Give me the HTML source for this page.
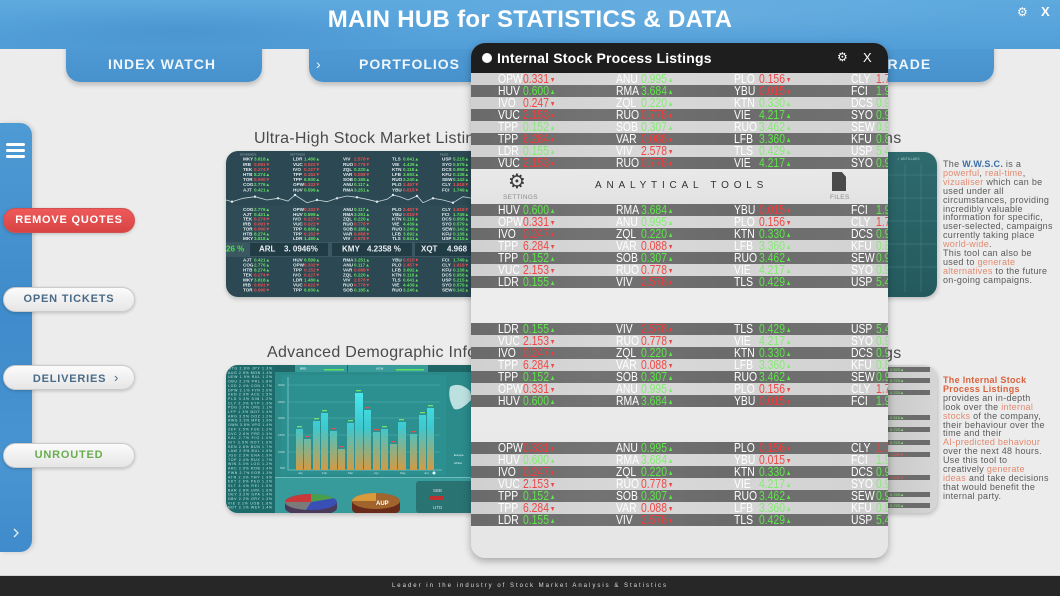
<!DOCTYPE html>
<html><head><meta charset="utf-8">
<style>
*{margin:0;padding:0;box-sizing:border-box}
html,body{width:1060px;height:596px;overflow:hidden}
body{position:relative;background:#ececec;font-family:"Liberation Sans",sans-serif}
.a{position:absolute}
#band{left:0;top:0;width:1060px;height:49px;z-index:2;background:radial-gradient(ellipse 260px 30px at 180px 30px,rgba(40,110,180,.25),transparent),radial-gradient(ellipse 300px 30px at 700px 15px,rgba(255,255,255,.08),transparent),linear-gradient(180deg,#5eaadf,#529ed8)}
.tab{top:40px;height:42px;z-index:1;border-radius:0 0 14px 14px;background:linear-gradient(180deg,#509cd6 0%,#4791cc 100%);box-shadow:0 3px 5px rgba(0,0,0,.2)}
.tt{color:#eef6fc;font-weight:bold;font-size:14px;letter-spacing:1px;line-height:20px;z-index:3;white-space:nowrap}
#side{left:0;top:123px;width:32px;height:429px;border-radius:0 12px 12px 0;background:linear-gradient(180deg,#4e9ad4,#3f8bcb 45%,#4995d2 80%,#3f8bcb);box-shadow:2px 0 4px rgba(0,0,0,.15)}
.btn{left:3px;width:132px;height:25px;border-radius:13px;background:linear-gradient(180deg,#fbfbfb,#e6e6e6);border:1px solid #cbcbcb;box-shadow:0 1px 3px rgba(0,0,0,.2);font-weight:bold;font-size:11px;letter-spacing:.8px;text-align:center;line-height:23px;white-space:nowrap}
.sec{font-size:16px;color:#4a4a4a;letter-spacing:.3px;line-height:18px;white-space:nowrap}
#modal{left:471px;top:43px;width:417px;height:515px;border-radius:14px;overflow:hidden;background:linear-gradient(180deg,#e3e3e3,#ededed 50%,#e6e6e6);box-shadow:0 3px 8px rgba(0,0,0,.3);z-index:10}
.row{position:absolute;left:0;width:417px;height:12px}
.row.d{background:linear-gradient(90deg,#6a6a6a,#737373 30%,#6b6b6b 60%,#717171)}
.row.l{background:linear-gradient(90deg,#d0d0d0,#d8d8d8 40%,#d2d2d2)}
.row b,.row i{position:absolute;top:0;font-weight:normal;font-style:normal;font-size:12.5px;line-height:12px;color:#fff;transform:scaleX(.83);transform-origin:0 0;white-space:nowrap}
.row b:nth-of-type(1){left:27px}.row b:nth-of-type(2){left:145px}.row b:nth-of-type(3){left:263px}.row b:nth-of-type(4){left:380px}
.row i:nth-of-type(1){left:51.5px}.row i:nth-of-type(2){left:169.5px}.row i:nth-of-type(3){left:288px}.row i:nth-of-type(4){left:405px}
.row i.g{color:#5ee64a}.row i.n{color:#f23c3c}
.row.l i.g{color:#86ea76}.row.l i.n{color:#f04848}
.row i.g::after{content:"▲";font-size:7px;margin-left:1px;position:relative;top:-1px}
.row i.n::after{content:"▼";font-size:7px;margin-left:1px;position:relative;top:-1px}
.t{font-family:"Liberation Sans",sans-serif;font-size:4.6px;font-weight:bold;fill:#e3ecef}
.t .g{fill:#63e063}.t .n{fill:#ef5050}
.lb{font-family:"Liberation Sans",sans-serif;font-size:3px;fill:#9fb4bb}
.tk{font-family:"Liberation Sans",sans-serif;font-size:8px;font-weight:bold;fill:#e9f0f2}
.ls{font-family:"Liberation Sans",sans-serif;font-size:3.5px;fill:#c2e6e6}
.sm{font-family:"Liberation Sans",sans-serif;font-size:3px;fill:#bfe0e0}
.side-txt{font-size:9px;line-height:8.9px;color:#5a5a5a;letter-spacing:.3px;white-space:nowrap}
.side-txt .h{color:#e38a70}
</style></head><body>

<!-- header -->
<div class="a" id="band"></div>
<div class="a tab" style="left:66px;width:196px"></div>
<div class="a tab" style="left:309px;width:175px"></div>
<div class="a tab" style="left:815px;width:179px"></div>
<div class="a" style="left:0;top:6px;width:1060px;text-align:center;color:#fff;font-weight:bold;font-size:24px;letter-spacing:.3px;line-height:27px;z-index:3">MAIN HUB for STATISTICS &amp; DATA</div>
<div class="a tt" style="left:108px;top:54px">INDEX WATCH</div>
<div class="a tt" style="left:316px;top:54px;font-weight:normal">›</div>
<div class="a tt" style="left:359px;top:54px">PORTFOLIOS</div>
<div class="a tt" style="left:878px;top:54px">TRADE</div>
<div class="a" style="left:1017px;top:5px;color:#fff;font-family:'DejaVu Sans',sans-serif;font-size:12px;z-index:3">⚙</div>
<div class="a" style="left:1041px;top:4px;color:#fff;font-weight:bold;font-size:13px;z-index:3">X</div>

<!-- sidebar -->
<div class="a" id="side"></div>
<div class="a" style="left:6px;top:143px;width:19px;height:3px;background:#fff;border-radius:2px"></div>
<div class="a" style="left:6px;top:149px;width:19px;height:3px;background:#fff;border-radius:2px"></div>
<div class="a" style="left:6px;top:155px;width:19px;height:3px;background:#fff;border-radius:2px"></div>
<svg class="a" style="left:10px;top:527px" width="12" height="12"><polyline points="4,2 8,6 4,10" fill="none" stroke="#e6f1fa" stroke-width="1.3"/></svg>

<div class="a btn" style="top:208px;background:linear-gradient(180deg,#ee5a5a,#d84444);border:1px solid #d45050;color:#fff">REMOVE QUOTES</div>
<div class="a btn" style="top:287px;color:#4a6b88">OPEN TICKETS</div>
<div class="a btn" style="top:365px;color:#4a6b88;padding-left:14px">DELIVERIES&nbsp;&nbsp;<span style="font-weight:normal;font-size:13px">›</span></div>
<div class="a btn" style="top:443px;color:#6aad4f">UNROUTED</div>

<!-- section titles -->
<div class="a sec" style="left:254px;top:130px">Ultra-High Stock Market Listings</div>
<div class="a sec" style="left:884px;top:130px">ns</div>
<div class="a sec" style="left:267px;top:344px">Advanced Demographic Information</div>
<div class="a sec" style="left:884px;top:345px">gs</div>

<!-- image 1 -->
<div class="a" style="left:226px;top:151px;width:262px;height:146px;border-radius:12px;overflow:hidden;box-shadow:0 2px 4px rgba(0,0,0,.2)">
<svg width="262" height="146">
<rect width="262" height="146" fill="#2c4852"/>
<rect y="54" width="262" height="37" fill="#2f4c56"/>
<text class="lb" x="14" y="4.5">DIVIDENDS</text><text class="lb" x="64" y="4.5">SETTINGS</text><text class="lb" x="214" y="4.5">FILES</text>
<g class="t">
<text y="9.7"><tspan x="17">MKY</tspan><tspan x="28" class="g">3.818▲</tspan><tspan x="67">LDR</tspan><tspan x="78" class="g">1.480▲</tspan><tspan x="117">VIV</tspan><tspan x="128" class="n">2.578▼</tspan><tspan x="166">TLS</tspan><tspan x="177" class="g">0.641▲</tspan><tspan x="216">USP</tspan><tspan x="227" class="g">5.215▲</tspan></text>
<text y="14.8"><tspan x="17">IRB</tspan><tspan x="28" class="n">0.091▼</tspan><tspan x="67">VUC</tspan><tspan x="78" class="n">0.022▼</tspan><tspan x="117">RUO</tspan><tspan x="128" class="n">0.778▼</tspan><tspan x="166">VIE</tspan><tspan x="177" class="g">4.439▲</tspan><tspan x="216">SYO</tspan><tspan x="227" class="g">0.579▲</tspan></text>
<text y="19.9"><tspan x="17">TEK</tspan><tspan x="28" class="n">0.274▼</tspan><tspan x="67">IVO</tspan><tspan x="78" class="n">0.227▼</tspan><tspan x="117">ZQL</tspan><tspan x="128" class="g">0.220▲</tspan><tspan x="166">KTN</tspan><tspan x="177" class="g">0.118▲</tspan><tspan x="216">DCS</tspan><tspan x="227" class="g">0.958▲</tspan></text>
<text y="25"><tspan x="17">HTB</tspan><tspan x="28" class="g">8.274▲</tspan><tspan x="67">TPP</tspan><tspan x="78" class="n">0.152▼</tspan><tspan x="117">VAR</tspan><tspan x="128" class="n">0.088▼</tspan><tspan x="166">LFB</tspan><tspan x="177" class="g">3.692▲</tspan><tspan x="216">KFU</tspan><tspan x="227" class="g">0.138▲</tspan></text>
<text y="30.1"><tspan x="17">TOR</tspan><tspan x="28" class="n">0.090▼</tspan><tspan x="67">TPP</tspan><tspan x="78" class="g">6.930▲</tspan><tspan x="117">SOB</tspan><tspan x="128" class="g">0.185▲</tspan><tspan x="166">RUO</tspan><tspan x="177" class="g">3.240▲</tspan><tspan x="216">SEW</tspan><tspan x="227" class="g">0.142▲</tspan></text>
<text y="35.2"><tspan x="17">COG</tspan><tspan x="28" class="g">2.776▲</tspan><tspan x="67">OPW</tspan><tspan x="78" class="n">0.332▼</tspan><tspan x="117">ANU</tspan><tspan x="128" class="g">0.117▲</tspan><tspan x="166">PLO</tspan><tspan x="177" class="n">2.457▼</tspan><tspan x="216">CLY</tspan><tspan x="227" class="n">1.618▼</tspan></text>
<text y="40.3"><tspan x="17">AJT</tspan><tspan x="28" class="g">0.421▲</tspan><tspan x="67">HUV</tspan><tspan x="78" class="g">0.599▲</tspan><tspan x="117">RMA</tspan><tspan x="128" class="g">3.251▲</tspan><tspan x="166">YBU</tspan><tspan x="177" class="n">0.015▼</tspan><tspan x="216">FCI</tspan><tspan x="227" class="g">1.749▲</tspan></text>

<text y="60"><tspan x="17">COG</tspan><tspan x="28" class="g">2.776▲</tspan><tspan x="67">OPW</tspan><tspan x="78" class="n">0.332▼</tspan><tspan x="117">ANU</tspan><tspan x="128" class="g">0.117▲</tspan><tspan x="166">PLO</tspan><tspan x="177" class="n">2.457▼</tspan><tspan x="216">CLY</tspan><tspan x="227" class="n">1.618▼</tspan></text>
<text y="64.85"><tspan x="17">AJT</tspan><tspan x="28" class="g">0.421▲</tspan><tspan x="67">HUV</tspan><tspan x="78" class="g">0.599▲</tspan><tspan x="117">RMA</tspan><tspan x="128" class="g">3.251▲</tspan><tspan x="166">YBU</tspan><tspan x="177" class="n">0.015▼</tspan><tspan x="216">FCI</tspan><tspan x="227" class="g">1.749▲</tspan></text>
<text y="69.7"><tspan x="17">TEK</tspan><tspan x="28" class="n">0.274▼</tspan><tspan x="67">IVO</tspan><tspan x="78" class="n">0.227▼</tspan><tspan x="117">ZQL</tspan><tspan x="128" class="g">0.220▲</tspan><tspan x="166">KTN</tspan><tspan x="177" class="g">0.118▲</tspan><tspan x="216">DCS</tspan><tspan x="227" class="g">0.958▲</tspan></text>
<text y="74.55"><tspan x="17">IRB</tspan><tspan x="28" class="n">0.091▼</tspan><tspan x="67">VUC</tspan><tspan x="78" class="n">0.022▼</tspan><tspan x="117">RUO</tspan><tspan x="128" class="n">0.778▼</tspan><tspan x="166">VIE</tspan><tspan x="177" class="g">4.439▲</tspan><tspan x="216">SYO</tspan><tspan x="227" class="g">0.579▲</tspan></text>
<text y="79.4"><tspan x="17">TOR</tspan><tspan x="28" class="n">0.090▼</tspan><tspan x="67">TPP</tspan><tspan x="78" class="g">6.930▲</tspan><tspan x="117">SOB</tspan><tspan x="128" class="g">0.185▲</tspan><tspan x="166">RUO</tspan><tspan x="177" class="g">3.240▲</tspan><tspan x="216">SEW</tspan><tspan x="227" class="g">0.142▲</tspan></text>
<text y="84.25"><tspan x="17">HTB</tspan><tspan x="28" class="g">8.274▲</tspan><tspan x="67">TPP</tspan><tspan x="78" class="n">0.152▼</tspan><tspan x="117">VAR</tspan><tspan x="128" class="n">0.088▼</tspan><tspan x="166">LFB</tspan><tspan x="177" class="g">3.692▲</tspan><tspan x="216">KFU</tspan><tspan x="227" class="g">0.138▲</tspan></text>
<text y="89.1"><tspan x="17">MKY</tspan><tspan x="28" class="g">3.818▲</tspan><tspan x="67">LDR</tspan><tspan x="78" class="g">1.480▲</tspan><tspan x="117">VIV</tspan><tspan x="128" class="n">2.578▼</tspan><tspan x="166">TLS</tspan><tspan x="177" class="g">0.641▲</tspan><tspan x="216">USP</tspan><tspan x="227" class="g">5.215▲</tspan></text>

<text y="110.5"><tspan x="17">AJT</tspan><tspan x="28" class="g">0.421▲</tspan><tspan x="67">HUV</tspan><tspan x="78" class="g">0.599▲</tspan><tspan x="117">RMA</tspan><tspan x="128" class="g">3.251▲</tspan><tspan x="166">YBU</tspan><tspan x="177" class="n">0.015▼</tspan><tspan x="216">FCI</tspan><tspan x="227" class="g">1.749▲</tspan></text>
<text y="115.5"><tspan x="17">COG</tspan><tspan x="28" class="g">2.776▲</tspan><tspan x="67">OPW</tspan><tspan x="78" class="n">0.332▼</tspan><tspan x="117">ANU</tspan><tspan x="128" class="g">0.117▲</tspan><tspan x="166">PLO</tspan><tspan x="177" class="n">2.457▼</tspan><tspan x="216">CLY</tspan><tspan x="227" class="n">1.618▼</tspan></text>
<text y="120.5"><tspan x="17">HTB</tspan><tspan x="28" class="g">8.274▲</tspan><tspan x="67">TPP</tspan><tspan x="78" class="n">0.152▼</tspan><tspan x="117">VAR</tspan><tspan x="128" class="n">0.088▼</tspan><tspan x="166">LFB</tspan><tspan x="177" class="g">3.692▲</tspan><tspan x="216">KFU</tspan><tspan x="227" class="g">0.138▲</tspan></text>
<text y="125.5"><tspan x="17">TEK</tspan><tspan x="28" class="n">0.274▼</tspan><tspan x="67">IVO</tspan><tspan x="78" class="n">0.227▼</tspan><tspan x="117">ZQL</tspan><tspan x="128" class="g">0.220▲</tspan><tspan x="166">KTN</tspan><tspan x="177" class="g">0.118▲</tspan><tspan x="216">DCS</tspan><tspan x="227" class="g">0.958▲</tspan></text>
<text y="130.5"><tspan x="17">MKY</tspan><tspan x="28" class="g">3.818▲</tspan><tspan x="67">LDR</tspan><tspan x="78" class="g">1.480▲</tspan><tspan x="117">VIV</tspan><tspan x="128" class="n">2.578▼</tspan><tspan x="166">TLS</tspan><tspan x="177" class="g">0.641▲</tspan><tspan x="216">USP</tspan><tspan x="227" class="g">5.215▲</tspan></text>
<text y="135.5"><tspan x="17">IRB</tspan><tspan x="28" class="n">0.091▼</tspan><tspan x="67">VUC</tspan><tspan x="78" class="n">0.022▼</tspan><tspan x="117">RUO</tspan><tspan x="128" class="n">0.778▼</tspan><tspan x="166">VIE</tspan><tspan x="177" class="g">4.439▲</tspan><tspan x="216">SYO</tspan><tspan x="227" class="g">0.579▲</tspan></text>
<text y="140.5"><tspan x="17">TOR</tspan><tspan x="28" class="n">0.090▼</tspan><tspan x="67">TPP</tspan><tspan x="78" class="g">6.930▲</tspan><tspan x="117">SOB</tspan><tspan x="128" class="g">0.185▲</tspan><tspan x="166">RUO</tspan><tspan x="177" class="g">3.240▲</tspan><tspan x="216">SEW</tspan><tspan x="227" class="g">0.142▲</tspan></text>
</g>
<polyline points="0,49 6,50.7 17,47.3 29,45.7 41,49 52,47.3 62,50 69,44 81,51.7 91,49 101,50.7 111,47.3 121,45 131,46.3 141,48.3 151,50.7 161,48.3 167,44 174,45.7 182,49 191,45 197,51.7 207,47.3 217,49 227,51.7 237,45.7 250,48 262,47" fill="none" stroke="#c9d8dd" stroke-width=".8"/>
<g fill="#dfe9ec"><circle cx="6" cy="50.7" r="1.2"/><circle cx="29" cy="45.7" r="1.2"/><circle cx="52" cy="47.3" r="1.2"/><circle cx="69" cy="44" r="1.2"/><circle cx="91" cy="49" r="1.2"/><circle cx="111" cy="47.3" r="1.2"/><circle cx="131" cy="46.3" r="1.2"/><circle cx="151" cy="50.7" r="1.2"/><circle cx="167" cy="44" r="1.2"/><circle cx="191" cy="45" r="1.2"/><circle cx="207" cy="47.3" r="1.2"/><circle cx="227" cy="51.7" r="1.2"/><circle cx="250" cy="48" r="1.2"/></g>
<rect x="0" y="91" width="262" height="15" fill="#3b5761"/>
<rect x="24" y="92" width="78" height="13" fill="#223c46"/>
<rect x="106" y="92" width="80" height="13" fill="#223c46"/>
<rect x="189" y="92" width="73" height="13" fill="#223c46"/>
<text class="tk" x="0" y="100.7" style="fill:#4be04b">26 %</text>
<text class="tk" x="33" y="100.7">ARL</text><text class="tk" x="58" y="100.7">3. 0946%</text>
<text class="tk" x="116" y="100.7">KMY</text><text class="tk" x="141" y="100.7">4.2358 %</text>
<text class="tk" x="195" y="100.7">XQT</text><text class="tk" x="221" y="100.7">4.968</text>
</svg>
</div>

<!-- image 2 -->
<div class="a" style="left:226px;top:365px;width:262px;height:148px;border-radius:12px;overflow:hidden;box-shadow:0 2px 4px rgba(0,0,0,.2)">
<svg width="262" height="148">
<defs><linearGradient id="bg2" x1="0" y1="28" x2="0" y2="105" gradientUnits="userSpaceOnUse"><stop offset="0" stop-color="#48e6ec"/><stop offset=".45" stop-color="#3dc8cf"/><stop offset="1" stop-color="#d49a43"/></linearGradient></defs>
<rect width="262" height="148" fill="#2b8a8a"/>
<rect width="49" height="148" fill="#1c6a6a"/>
<g class="ls">
<text x="2" y="4.5" textLength="44" lengthAdjust="spacing">MTG 2.8% JPY 1.3%</text>
<text x="2" y="8.85" textLength="44" lengthAdjust="spacing">AUG 2.5% MON 1.4%</text>
<text x="2" y="13.2" textLength="44" lengthAdjust="spacing">UEW 1.9% RUL 1.2%</text>
<text x="2" y="17.55" textLength="44" lengthAdjust="spacing">OBU 2.2% PRL 1.8%</text>
<text x="2" y="21.9" textLength="44" lengthAdjust="spacing">LOD 2.4% CON 1.7%</text>
<text x="2" y="26.25" textLength="44" lengthAdjust="spacing">DPW 2.1% FYR 2.0%</text>
<text x="2" y="30.6" textLength="44" lengthAdjust="spacing">KEN 2.9% ACE 1.5%</text>
<text x="2" y="34.95" textLength="44" lengthAdjust="spacing">PLD 3.3% SIM 1.2%</text>
<text x="2" y="39.3" textLength="44" lengthAdjust="spacing">CLY 2.3% EYP 1.3%</text>
<text x="2" y="43.65" textLength="44" lengthAdjust="spacing">PDG 2.0% URE 1.1%</text>
<text x="2" y="48" textLength="44" lengthAdjust="spacing">LFP 1.3% MOT 1.4%</text>
<text x="2" y="52.35" textLength="44" lengthAdjust="spacing">ARG 3.5% DOZ 1.2%</text>
<text x="2" y="56.7" textLength="44" lengthAdjust="spacing">RWS 2.3% MPE 1.9%</text>
<text x="2" y="61.05" textLength="44" lengthAdjust="spacing">OWN 3.8% VPG 1.4%</text>
<text x="2" y="65.4" textLength="44" lengthAdjust="spacing">ZEF 2.5% FUE 1.2%</text>
<text x="2" y="69.75" textLength="44" lengthAdjust="spacing">DVC 2.6% PRE 1.3%</text>
<text x="2" y="74.1" textLength="44" lengthAdjust="spacing">KAL 2.7% FIG 1.0%</text>
<text x="2" y="78.45" textLength="44" lengthAdjust="spacing">HIY 3.5% NOT 1.6%</text>
<text x="2" y="82.8" textLength="44" lengthAdjust="spacing">SEN 2.6% BUN 1.7%</text>
<text x="2" y="87.15" textLength="44" lengthAdjust="spacing">LAW 2.8% BUL 1.5%</text>
<text x="2" y="91.5" textLength="44" lengthAdjust="spacing">JGU 2.3% ENA 1.9%</text>
<text x="2" y="95.85" textLength="44" lengthAdjust="spacing">TOP 2.4% RUX 1.7%</text>
<text x="2" y="100.2" textLength="44" lengthAdjust="spacing">WIN 3.3% LOG 1.2%</text>
<text x="2" y="104.55" textLength="44" lengthAdjust="spacing">ARC 2.5% ROB 1.4%</text>
<text x="2" y="108.9" textLength="44" lengthAdjust="spacing">PWN 2.7% EOR 1.3%</text>
<text x="2" y="113.25" textLength="44" lengthAdjust="spacing">ATR 2.3% TMY 1.9%</text>
<text x="2" y="117.6" textLength="44" lengthAdjust="spacing">EKT 2.6% PEO 1.2%</text>
<text x="2" y="121.95" textLength="44" lengthAdjust="spacing">SLT 3.4% REI 1.5%</text>
<text x="2" y="126.3" textLength="44" lengthAdjust="spacing">BAR 2.8% URK 1.6%</text>
<text x="2" y="130.65" textLength="44" lengthAdjust="spacing">OEY 3.2% GPA 1.4%</text>
<text x="2" y="135" textLength="44" lengthAdjust="spacing">DBV 2.2% ORY 1.3%</text>
<text x="2" y="139.35" textLength="44" lengthAdjust="spacing">VIE 3.1% UOB 1.6%</text>
<text x="2" y="143.7" textLength="44" lengthAdjust="spacing">NOT 2.1% WEF 1.4%</text>
</g>
<rect x="49" y="0" width="213" height="7" fill="#1f6767"/>
<rect x="69" y="0" width="52" height="7" fill="#3a9b9b"/><rect x="98" y="4" width="20" height="1.5" fill="#5fe05f"/>
<rect x="122" y="0" width="80" height="7" fill="#3a9b9b"/><rect x="170" y="4" width="28" height="1.5" fill="#5fe05f"/>
<text class="sm" x="74" y="4.5" style="fill:#fff">BRD</text><text class="sm" x="150" y="4.5" style="fill:#fff">UCW</text>
<rect x="55" y="10" width="165" height="100" fill="#2d9090"/>
<g stroke="#5fb6b6" stroke-width=".4"><line x1="62" y1="20" x2="214" y2="20"/><line x1="62" y1="37" x2="214" y2="37"/><line x1="62" y1="53" x2="214" y2="53"/><line x1="62" y1="70" x2="214" y2="70"/><line x1="62" y1="87" x2="214" y2="87"/></g>
<line x1="62" y1="12" x2="62" y2="105" stroke="#a6dede" stroke-width=".6"/>
<line x1="62" y1="105" x2="216" y2="105" stroke="#a6dede" stroke-width=".6"/>
<g class="sm"><text x="52" y="21">3000</text><text x="52" y="38">2500</text><text x="52" y="54">2000</text><text x="52" y="71">1500</text><text x="52" y="88">1000</text><text x="54" y="104">500</text></g>
<g fill="url(#bg2)">
<rect x="70" y="64" width="7" height="41"/><rect x="78" y="74" width="7" height="31"/><rect x="87" y="56" width="7" height="49"/><rect x="95" y="48" width="7" height="57"/>
<rect x="104" y="66" width="7" height="39"/><rect x="112" y="84" width="7" height="21"/><rect x="121" y="58" width="7" height="47"/><rect x="129" y="28" width="8" height="77"/>
<rect x="138" y="45" width="7" height="60"/><rect x="147" y="67" width="7" height="38"/><rect x="155" y="64" width="7" height="41"/><rect x="164" y="79" width="7" height="26"/>
<rect x="172" y="57" width="8" height="48"/><rect x="184" y="69" width="7" height="36"/><rect x="193" y="50" width="7" height="55"/><rect x="201" y="43" width="7" height="62"/>
</g>
<g><rect x="71" y="61" width="5" height="1.3" fill="#6fe36f"/><rect x="79" y="71" width="5" height="1.3" fill="#e05050"/><rect x="88" y="53" width="5" height="1.3" fill="#6fe36f"/><rect x="96" y="45" width="5" height="1.3" fill="#6fe36f"/><rect x="105" y="63" width="5" height="1.3" fill="#e05050"/><rect x="113" y="81" width="5" height="1.3" fill="#e05050"/><rect x="122" y="55" width="5" height="1.3" fill="#6fe36f"/><rect x="130" y="25" width="5" height="1.3" fill="#6fe36f"/><rect x="139" y="42" width="5" height="1.3" fill="#e05050"/><rect x="148" y="64" width="5" height="1.3" fill="#e05050"/><rect x="156" y="61" width="5" height="1.3" fill="#6fe36f"/><rect x="165" y="76" width="5" height="1.3" fill="#e05050"/><rect x="173" y="54" width="5" height="1.3" fill="#6fe36f"/><rect x="185" y="66" width="5" height="1.3" fill="#e05050"/><rect x="194" y="47" width="5" height="1.3" fill="#6fe36f"/><rect x="202" y="40" width="5" height="1.3" fill="#6fe36f"/></g>
<g class="sm"><text x="72" y="109">Jan</text><text x="96" y="109">Feb</text><text x="122" y="109">Mar</text><text x="148" y="109">Apr</text><text x="174" y="109">May</text><text x="198" y="109">Jun</text></g>
<path d="M224,22 C230,18 238,20 244,26 L246,34 C240,40 234,46 228,44 C224,38 222,30 224,22 Z" fill="#d6efef" opacity=".85"/>
<text class="sm" x="228" y="91" style="fill:#e6ffff">Europe</text><text class="sm" x="228" y="99" style="fill:#e6ffff">Africa</text>
<circle cx="208" cy="108" r="1.5" fill="#e6ffff"/>
<rect x="49" y="112" width="213" height="36" fill="#389b9b"/>
<rect x="49" y="112" width="213" height=".8" fill="#7cc6c6"/>
<rect x="59" y="137" width="52" height="6" fill="#4a3a5a"/><ellipse cx="85" cy="143" rx="26" ry="8" fill="#4a3a5a"/>
<ellipse cx="85" cy="137" rx="26" ry="8" fill="#3a4fb5"/>
<path d="M85,137 L59,137 A26,8 0 0 1 85,129 Z" fill="#c83a3a"/>
<path d="M85,137 L85,129 A26,8 0 0 1 108,133.3 Z" fill="#4aa04a"/>
<path d="M85,137 L59,137 A26,8 0 0 0 80,144.9 Z" fill="#7a7a7a"/>
<rect x="126" y="137" width="48" height="7" fill="#6a2a1a"/><ellipse cx="150" cy="144" rx="24" ry="8" fill="#6a2a1a"/>
<ellipse cx="150" cy="136" rx="24" ry="8" fill="#a0642c"/>
<path d="M150,136 L126,136 A24,8 0 0 1 150,128 Z" fill="#d89a3a"/>
<text x="150" y="140" style="font-family:'Liberation Sans';font-size:6px;font-weight:bold;fill:#fff">AUP</text>
<rect x="190" y="116" width="72" height="32" rx="3" fill="#2a7373"/>
<text class="sm" x="207" y="127" style="font-size:4.5px;fill:#dde">SBB</text>
<rect x="203" y="131" width="14" height="4" fill="#c03030"/>
<text class="sm" x="207" y="144" style="font-size:4.5px;fill:#dde">UTD</text>
</svg>
</div>

<!-- right pieces -->
<div class="a" style="left:878px;top:152px;width:59px;height:145px;border-radius:0 13px 13px 0;overflow:hidden;background:linear-gradient(180deg,#2e6a6e,#245a5e);box-shadow:1px 2px 4px rgba(0,0,0,.2)">
<svg width="59" height="145">
<g stroke="#5d9699" stroke-width=".5" opacity=".7"><line x1="27" y1="12" x2="27" y2="140"/><line x1="43" y1="12" x2="43" y2="140"/><line x1="10" y1="23" x2="59" y2="23"/><line x1="10" y1="46" x2="59" y2="46"/><line x1="10" y1="69" x2="59" y2="69"/><line x1="10" y1="92" x2="59" y2="92"/><line x1="10" y1="115" x2="59" y2="115"/></g>
<text x="19" y="8" style="font-family:'Liberation Sans';font-size:3.5px;fill:#a8cccc">✓ ANTILLAES</text>
</svg>
</div>
<div class="a" style="left:878px;top:365px;width:59px;height:148px;border-radius:0 13px 13px 0;overflow:hidden;background:linear-gradient(90deg,#c6c6c6,#d6d6d6);box-shadow:1px 2px 4px rgba(0,0,0,.2)">
<svg width="59" height="148">
<g fill="#6c6c6c"><rect x="8" y="2" width="44" height="5"/><rect x="8" y="13" width="44" height="5"/><rect x="8" y="25" width="44" height="5"/><rect x="8" y="50" width="44" height="5"/><rect x="8" y="62" width="44" height="5"/><rect x="8" y="75" width="44" height="5"/><rect x="8" y="87" width="44" height="5"/><rect x="8" y="110" width="44" height="5"/><rect x="8" y="127" width="44" height="5"/><rect x="8" y="138" width="44" height="5"/></g>
<g style="font-family:'Liberation Sans';font-size:4px;fill:#7ee86e"><text x="12" y="6">0.520▲</text><text x="12" y="17">0.720▲</text><text x="12" y="29">0.220▲</text><text x="12" y="54">0.516▲</text><text x="12" y="66">0.720▲</text><text x="12" y="79">0.720▲</text><text x="12" y="91" style="fill:#f05050">1.220▼</text><text x="12" y="114" style="fill:#f05050">0.431▼</text><text x="12" y="131">0.720▲</text><text x="12" y="142">0.720▲</text></g>
</svg>
</div>

<!-- right texts -->
<div class="a side-txt" style="left:943px;top:160px">The <b style="color:#3b6ea5">W.W.S.C.</b> is a<br><span class="h">powerful</span>, <span class="h">real-time</span>,<br><span class="h">vizualiser</span> which can be<br>used under all<br>circumstances, providing<br>incredibly valuable<br>information for specific,<br>user-selected, campaigns<br>currently taking place<br><span class="h">world-wide</span>.<br>This tool can also be<br>used to <span class="h">generate</span><br><span class="h">alternatives</span> to the future<br>on-going campaigns.</div>
<div class="a side-txt" style="left:943px;top:376px"><b style="color:#d9623e">The Internal Stock<br>Process Listings</b><br>provides an in-depth<br>look over the <span class="h">internal</span><br><span class="h">stocks</span> of the company,<br>their behaviour over the<br>time and their<br><span class="h">AI-predicted behaviour</span><br>over the next 48 hours.<br>Use this tool to<br>creatively <span class="h">generate</span><br><span class="h">ideas</span> and take decisions<br>that would benefit the<br>internal party.</div>

<!-- modal -->
<div class="a" id="modal">
<div class="a" style="left:0;top:0;width:417px;height:30px;background:#1e1e1e"></div>
<div class="a" style="left:11px;top:10px;width:10px;height:10px;border-radius:50%;background:#fff"></div>
<div class="a" style="left:26px;top:7px;color:#fff;font-weight:bold;font-size:14px;letter-spacing:.2px;line-height:16px;white-space:nowrap">Internal Stock Process Listings</div>
<div class="a" style="left:366px;top:7px;color:#fff;font-family:'DejaVu Sans',sans-serif;font-size:12px">⚙</div>
<div class="a" style="left:392px;top:7px;color:#fff;font-size:13px;line-height:16px">X</div>

<div class="row l" style="top:30px"><b>OPW</b><i class="n">0.331</i><b>ANU</b><i class="g">0.995</i><b>PLO</b><i class="n">0.156</i><b>CLY</b><i class="n">1.742</i></div>
<div class="row d" style="top:42px"><b>HUV</b><i class="g">0.600</i><b>RMA</b><i class="g">3.684</i><b>YBU</b><i class="n">0.015</i><b>FCI</b><i class="g">1.972</i></div>
<div class="row l" style="top:54px"><b>IVO</b><i class="n">0.247</i><b>ZQL</b><i class="g">0.220</i><b>KTN</b><i class="g">0.330</i><b>DCS</b><i class="g">0.915</i></div>
<div class="row d" style="top:66px"><b>VUC</b><i class="n">2.153</i><b>RUO</b><i class="n">0.778</i><b>VIE</b><i class="g">4.217</i><b>SYO</b><i class="g">0.915</i></div>
<div class="row l" style="top:78px"><b>TPP</b><i class="g">0.152</i><b>SOB</b><i class="g">0.307</i><b>RUO</b><i class="g">3.462</i><b>SEW</b><i class="g">0.972</i></div>
<div class="row d" style="top:90px"><b>TPP</b><i class="n">6.284</i><b>VAR</b><i class="n">0.088</i><b>LFB</b><i class="g">3.360</i><b>KFU</b><i class="g">0.815</i></div>
<div class="row l" style="top:102px"><b>LDR</b><i class="g">0.155</i><b>VIV</b><i class="n">2.578</i><b>TLS</b><i class="g">0.429</i><b>USP</b><i class="g">5.432</i></div>
<div class="row d" style="top:114px"><b>VUC</b><i class="n">2.153</i><b>RUO</b><i class="n">0.778</i><b>VIE</b><i class="g">4.217</i><b>SYO</b><i class="g">0.915</i></div>

<div class="a" style="left:0;top:126px;width:417px;height:35px;background:linear-gradient(180deg,#e9e9e9,#e2e2e2)"></div>
<div class="a" style="left:37px;top:127px;font-family:'DejaVu Sans',sans-serif;font-size:20px;color:#3a3a3a;line-height:22px">⚙</div>
<div class="a" style="left:32px;top:151px;font-size:6.5px;color:#8a8a8a;letter-spacing:.3px;line-height:7px">SETTINGS</div>
<div class="a" style="left:124px;top:137px;font-size:10px;color:#333;letter-spacing:4.8px;line-height:11px;white-space:nowrap">ANALYTICAL TOOLS</div>
<div class="a" style="left:361px;top:129px;width:14px;height:19px;background:#4a4a4a;clip-path:polygon(0 0,70% 0,100% 25%,100% 100%,0 100%)"></div>
<div class="a" style="left:359px;top:151px;font-size:6.5px;color:#8a8a8a;letter-spacing:.3px;line-height:7px">FILES</div>

<div class="row d" style="top:161px"><b>HUV</b><i class="g">0.600</i><b>RMA</b><i class="g">3.684</i><b>YBU</b><i class="n">0.015</i><b>FCI</b><i class="g">1.972</i></div>
<div class="row l" style="top:173px"><b>OPW</b><i class="n">0.331</i><b>ANU</b><i class="g">0.995</i><b>PLO</b><i class="n">0.156</i><b>CLY</b><i class="n">1.742</i></div>
<div class="row d" style="top:185px"><b>IVO</b><i class="n">0.247</i><b>ZQL</b><i class="g">0.220</i><b>KTN</b><i class="g">0.330</i><b>DCS</b><i class="g">0.915</i></div>
<div class="row l" style="top:197px"><b>TPP</b><i class="n">6.284</i><b>VAR</b><i class="n">0.088</i><b>LFB</b><i class="g">3.360</i><b>KFU</b><i class="g">0.815</i></div>
<div class="row d" style="top:209px"><b>TPP</b><i class="g">0.152</i><b>SOB</b><i class="g">0.307</i><b>RUO</b><i class="g">3.462</i><b>SEW</b><i class="g">0.972</i></div>
<div class="row l" style="top:221px"><b>VUC</b><i class="n">2.153</i><b>RUO</b><i class="n">0.778</i><b>VIE</b><i class="g">4.217</i><b>SYO</b><i class="g">0.915</i></div>
<div class="row d" style="top:233px"><b>LDR</b><i class="g">0.155</i><b>VIV</b><i class="n">2.578</i><b>TLS</b><i class="g">0.429</i><b>USP</b><i class="g">5.432</i></div>

<div class="row d" style="top:280px"><b>LDR</b><i class="g">0.155</i><b>VIV</b><i class="n">2.578</i><b>TLS</b><i class="g">0.429</i><b>USP</b><i class="g">5.432</i></div>
<div class="row l" style="top:292px"><b>VUC</b><i class="n">2.153</i><b>RUO</b><i class="n">0.778</i><b>VIE</b><i class="g">4.217</i><b>SYO</b><i class="g">0.915</i></div>
<div class="row d" style="top:304px"><b>IVO</b><i class="n">0.247</i><b>ZQL</b><i class="g">0.220</i><b>KTN</b><i class="g">0.330</i><b>DCS</b><i class="g">0.915</i></div>
<div class="row l" style="top:316px"><b>TPP</b><i class="n">6.284</i><b>VAR</b><i class="n">0.088</i><b>LFB</b><i class="g">3.360</i><b>KFU</b><i class="g">0.815</i></div>
<div class="row d" style="top:328px"><b>TPP</b><i class="g">0.152</i><b>SOB</b><i class="g">0.307</i><b>RUO</b><i class="g">3.462</i><b>SEW</b><i class="g">0.972</i></div>
<div class="row l" style="top:340px"><b>OPW</b><i class="n">0.331</i><b>ANU</b><i class="g">0.995</i><b>PLO</b><i class="n">0.156</i><b>CLY</b><i class="n">1.742</i></div>
<div class="row d" style="top:352px"><b>HUV</b><i class="g">0.600</i><b>RMA</b><i class="g">3.684</i><b>YBU</b><i class="n">0.015</i><b>FCI</b><i class="g">1.972</i></div>

<div class="row d" style="top:399px"><b>OPW</b><i class="n">0.331</i><b>ANU</b><i class="g">0.995</i><b>PLO</b><i class="n">0.156</i><b>CLY</b><i class="n">1.742</i></div>
<div class="row l" style="top:411px"><b>HUV</b><i class="g">0.600</i><b>RMA</b><i class="g">3.684</i><b>YBU</b><i class="n">0.015</i><b>FCI</b><i class="g">1.972</i></div>
<div class="row d" style="top:423px"><b>IVO</b><i class="n">0.247</i><b>ZQL</b><i class="g">0.220</i><b>KTN</b><i class="g">0.330</i><b>DCS</b><i class="g">0.915</i></div>
<div class="row l" style="top:435px"><b>VUC</b><i class="n">2.153</i><b>RUO</b><i class="n">0.778</i><b>VIE</b><i class="g">4.217</i><b>SYO</b><i class="g">0.915</i></div>
<div class="row d" style="top:447px"><b>TPP</b><i class="g">0.152</i><b>SOB</b><i class="g">0.307</i><b>RUO</b><i class="g">3.462</i><b>SEW</b><i class="g">0.972</i></div>
<div class="row l" style="top:459px"><b>TPP</b><i class="n">6.284</i><b>VAR</b><i class="n">0.088</i><b>LFB</b><i class="g">3.360</i><b>KFU</b><i class="g">0.815</i></div>
<div class="row d" style="top:471px"><b>LDR</b><i class="g">0.155</i><b>VIV</b><i class="n">2.578</i><b>TLS</b><i class="g">0.429</i><b>USP</b><i class="g">5.432</i></div>
</div>

<!-- footer -->
<div class="a" style="left:0;top:575px;width:1060px;height:21px;background:#272727;border-top:1px solid #d4d4d4;text-align:center;color:#dcdcdc;font-size:6px;letter-spacing:2px;line-height:20px;white-space:nowrap">Leader in the industry of Stock Market Analysis &amp; Statistics</div>
</body></html>
